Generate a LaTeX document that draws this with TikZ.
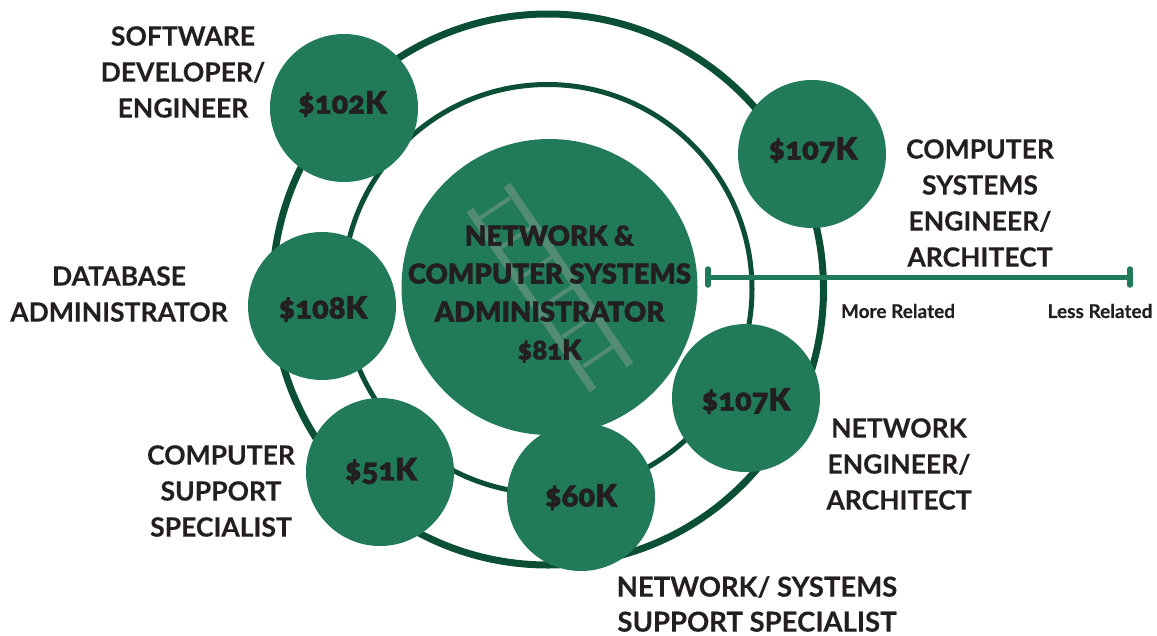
\documentclass[tikz,border=0pt]{standalone}
\usepackage{fontspec}
\setmainfont{Lato}[BoldFeatures={FakeBold=0.25}]
\newfontfamily\blackfont{Lato}[UprightFont=* Black,Numbers=OldStyle,FakeBold=1.2]
\definecolor{jobGreen}{HTML}{217a58}
\definecolor{ringGreen}{HTML}{0b4f35}
\definecolor{ladderGreen}{HTML}{528c74}
\definecolor{jobText}{HTML}{231f20}
\tikzset{
    ring/.style={circle, draw=ringGreen, inner sep=0pt},
    job/.style={circle, fill=jobGreen, inner sep=0pt, minimum size=148pt},
    salary/.style={text=jobText, inner sep=0pt, font=\blackfont\fontsize{31}{36}\selectfont},
    title/.style={align=center, text=jobText, inner sep=0pt, font=\bfseries\fontsize{26.5}{36}\selectfont},
    scaleLabel/.style={text=jobText, inner sep=0pt, font=\bfseries\fontsize{19}{22}\selectfont},
    scaleBar/.style={draw=jobGreen, line width=5pt},
    scaleTick/.style={draw=jobGreen, line width=5.5pt, line cap=round},
}
\begin{document}
\begin{tikzpicture}[x=1pt, y=-1pt]
    \useasboundingbox (0,0) rectangle (1157,635);
    % rings
    \node[ring, line width=7pt, minimum size=551pt] (ringOuter) at (548,289.5) {};
    \node[ring, line width=5pt, minimum size=409pt] (ringInner) at (547.5,289) {};
    % centre
    \node[job, minimum size=296pt] (jobCentre) at (549.5,287) {};
    \coordinate (railAtop) at (470,210);
    \coordinate (railAend) at (593,390);
    \coordinate (railBtop) at (507,185);
    \coordinate (railBend) at (630,365);
    \foreach \k in {0,...,5}
        \draw[ladderGreen, line width=4pt] (480+20.67*\k,218+29.67*\k) -- ++(30,-20);
    \draw[ladderGreen, line width=8pt] (railAtop) -- (railAend);
    \draw[ladderGreen, line width=8pt] (railBtop) -- (railBend);
    \node[align=center, text=jobText, inner sep=0pt, font=\blackfont\fontsize{27.5}{38}\selectfont] (centreText) at (549.5,294) {NETWORK \&\\COMPUTER SYSTEMS\\ADMINISTRATOR\\\$81K};
    % salaries
    \node[job] (jobDev) at (344,108) {};
    \node[job] (jobArch) at (812,154) {};
    \node[job] (jobDba) at (322,306) {};
    \node[job] (jobNet) at (746,398) {};
    \node[job] (jobHelp) at (380,472) {};
    \node[job] (jobSup) at (581,497) {};
    \node[salary] (payDev) at (342.5,104) {\$102K};
    \node[salary] (payArch) at (813,150) {\$107K};
    \node[salary] (payDba) at (323,309) {\$108K};
    \node[salary] (payNet) at (746,401) {\$107K};
    \node[salary] (payHelp) at (381,471) {\$51K};
    \node[salary] (paySup) at (581,497) {\$60K};
    % titles
    \node[title] (titleDev) at (183,72) {SOFTWARE\\DEVELOPER/\\ENGINEER};
    \node[title] (titleArch) at (980,203) {COMPUTER\\SYSTEMS\\ENGINEER/\\ARCHITECT};
    \node[title] (titleDba) at (119,294) {DATABASE\\ADMINISTRATOR};
    \node[title] (titleNet) at (899,464) {NETWORK\\ENGINEER/\\ARCHITECT};
    \node[title] (titleHelp) at (221,491) {COMPUTER\\SUPPORT\\SPECIALIST};
    \node[title, font=\bfseries\fontsize{27.5}{35}\selectfont] (titleSup) at (757,604) {NETWORK/ SYSTEMS\\SUPPORT SPECIALIST};
    % scale
    \coordinate (scaleMore) at (708,277);
    \coordinate (scaleLess) at (1130,277);
    \draw[scaleBar] (scaleMore) -- (scaleLess);
    \draw[scaleTick] ([yshift=-8pt]scaleMore) -- ([yshift=8pt]scaleMore);
    \draw[scaleTick] ([yshift=-8pt]scaleLess) -- ([yshift=8pt]scaleLess);
    \node[scaleLabel] (labelMore) at (898,311) {More Related};
    \node[scaleLabel] (labelLess) at (1100,311) {Less Related};
\end{tikzpicture}
\end{document}
